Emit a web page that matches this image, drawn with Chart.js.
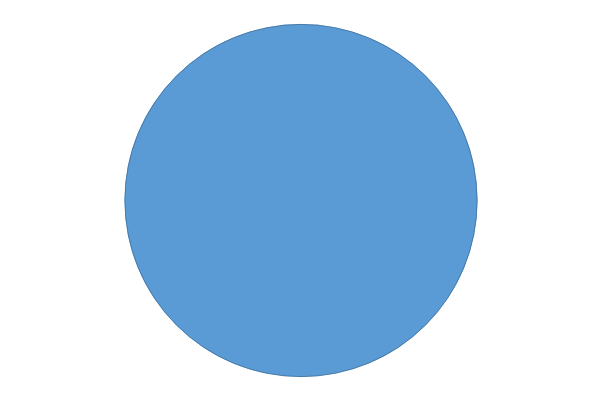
<!DOCTYPE html>
<html>
<head>
<meta charset="utf-8">
<script src="https://cdn.jsdelivr.net/npm/chart.js@4/dist/chart.umd.min.js"></script>
<style>
html,body{margin:0;padding:0;background:#fff;}
#wrap{width:600px;height:400px;}
</style>
</head>
<body>
<div id="wrap"><canvas id="c"></canvas></div>
<script>
const categories = ["Series 1"];
const values = [100];
const colors = ["#5B9BD5"];
const outlineColor = '#41719C';

const outlinePlugin = {
  id: 'outline',
  afterDatasetsDraw(chart) {
    const ctx = chart.ctx;
    chart.getDatasetMeta(0).data.forEach(arc => {
      const p = arc.getProps(['x', 'y', 'outerRadius'], true);
      ctx.save();
      ctx.beginPath();
      ctx.arc(p.x, p.y, p.outerRadius - 0.4, 0, Math.PI * 2);
      ctx.strokeStyle = outlineColor;
      ctx.lineWidth = 0.8;
      ctx.stroke();
      ctx.restore();
    });
  }
};

new Chart(document.getElementById('c'), {
  type: 'pie',
  data: {
    labels: categories,
    datasets: [{
      data: values,
      backgroundColor: colors,
      borderWidth: 0
    }]
  },
  options: {
    responsive: true,
    maintainAspectRatio: false,
    animation: false,
    layout: { padding: { top: 24, bottom: 23, left: 26, right: 24 } },
    plugins: { legend: { display: false }, tooltip: { enabled: false } }
  },
  plugins: [outlinePlugin]
});
</script>
</body>
</html>
